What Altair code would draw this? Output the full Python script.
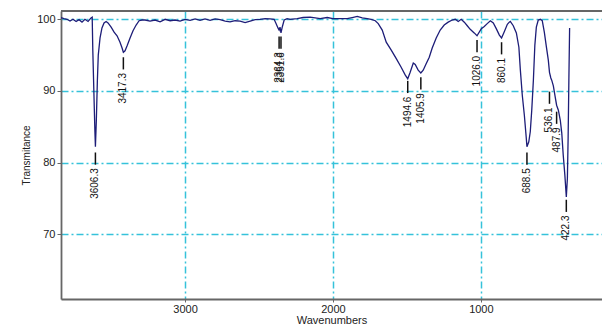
import altair as alt
import pandas as pd

# ---- spectrum ----
wavenumber = [
    3839, 3819, 3798, 3778, 3758, 3737, 3717, 3697, 3677, 3656, 3636, 3628,
    3624, 3617, 3610, 3606.3, 3600, 3593, 3587, 3575, 3562, 3548, 3534, 3521,
    3500, 3480, 3460, 3440, 3426, 3417.3, 3406, 3392, 3372, 3352, 3331, 3311,
    3291, 3271, 3237, 3203, 3169, 3135, 3101, 3068, 3034, 3000, 2966, 2932,
    2899, 2865, 2831, 2797, 2763, 2729, 2696, 2662, 2628, 2594, 2560, 2526,
    2493, 2459, 2425, 2398, 2385, 2372, 2364.3, 2358, 2351.6, 2342, 2330, 2310,
    2290, 2242, 2202, 2154, 2120, 2087, 2039, 2000, 1951, 1904, 1870, 1836,
    1802, 1769, 1742, 1714, 1694, 1667, 1640, 1606, 1572, 1539, 1511, 1494.6,
    1478, 1457, 1444, 1424, 1405.9, 1390, 1370, 1349, 1329, 1302, 1275, 1248,
    1221, 1194, 1173, 1153, 1133, 1112, 1092, 1072, 1045, 1026.0, 997, 977,
    957, 936, 916, 896, 875, 860.1, 841, 821, 808, 801, 781, 760,
    743, 733, 720, 706, 693, 688.5, 676, 666, 656, 645, 635, 625,
    612, 598, 585, 571, 558, 544, 536.1, 527, 521, 510, 497, 487.9,
    476, 463, 453, 443, 432, 422.3, 415, 410, 405, 400,
]
transmittance = [
    100.25, 100.1, 100.0, 99.75, 100.0, 99.7, 99.95, 99.6, 100.0, 99.7, 100.2, 100.3,
    95.7, 90.1, 84.5, 82.2, 85.9, 91.5, 95.0, 97.4, 98.8, 99.5, 99.7, 99.5,
    98.9, 98.2, 97.7, 96.8, 96.0, 95.4, 95.6, 96.3, 97.4, 98.4, 99.2, 99.8,
    99.9, 99.9, 99.75, 99.9, 99.65, 100.0, 99.8, 99.9, 99.75, 100.0, 99.85, 100.05,
    99.85, 100.05, 99.85, 100.05, 99.95, 99.75, 99.65, 99.8, 99.75, 99.55, 99.75, 99.95,
    100.0, 100.1, 100.05, 100.0, 99.4, 98.8, 98.5, 98.9, 98.1, 99.0, 99.9, 100.1,
    100.0, 100.1, 100.25, 100.3, 100.2, 100.1, 100.25, 100.1, 100.1, 100.1, 100.25, 100.4,
    100.2, 100.1, 100.0, 99.8, 99.4, 98.5, 96.8, 95.7, 94.5, 93.3, 92.2, 91.7,
    92.6, 93.9, 93.7, 92.9, 92.5, 92.9, 93.8, 94.7, 96.0, 97.4, 98.5, 99.2,
    99.6, 99.9, 100.0, 99.7, 100.0, 99.6, 99.1, 98.6, 98.1, 97.7, 98.7, 99.0,
    99.4, 99.8, 99.5, 98.7, 97.8, 97.4, 98.3, 99.3, 99.6, 99.7, 99.1, 98.1,
    96.1, 92.9, 89.4, 86.6, 83.4, 82.2, 82.9, 84.3, 87.3, 91.5, 96.4, 98.9,
    99.9, 100.0, 99.8, 98.2, 96.3, 94.3, 92.6, 91.8, 91.5, 90.7, 89.1, 88.0,
    87.3, 85.9, 84.1, 81.0, 78.2, 75.2, 77.8, 83.5, 91.5, 98.8,
]

# ---- peak annotations ----
peak_wn = [3606.3, 3417.3, 2364.3, 2351.6, 1494.6, 1405.9, 1026.0, 860.1, 688.5, 536.1, 487.9, 422.3]
peak_labels = ["3606.3", "3417.3", "2364.3", "2351.6", "1494.6", "1405.9", "1026.0", "860.1",
               "688.5", "536.1", "487.9", "422.3"]
peak_mark_T = [81.4, 94.7, 97.6, 97.6, 91.4, 91.9, 97.1, 96.8, 81.4, 89.9, 87.1, 74.8]

x_ticks = [3000, 2000, 1000]
y_ticks = [70, 80, 90, 100]

spec = pd.DataFrame({"wn": wavenumber, "T": transmittance})
peaks = pd.DataFrame({"wn": peak_wn, "label": peak_labels, "T": peak_mark_T})

W, H = 541, 288
GRID = "#36c2da"
AXC = "#666666"
LBLFONT = "Liberation Sans"

xs = alt.Scale(domain=[3839, 181], nice=False, zero=False)
ys = alt.Scale(domain=[60.94, 101.16], nice=False, zero=False)

x_axis = alt.Axis(values=x_ticks, title="Wavenumbers", format="d", grid=True,
                  gridColor=GRID, gridDash=[7, 3, 2, 3], gridWidth=1.5,
                  domainColor=AXC, domainWidth=1.8, tickColor=AXC, tickSize=3,
                  labelFont=LBLFONT, labelFontSize=11, labelColor="#222",
                  labelPadding=1, titleFont=LBLFONT, titleFontSize=11,
                  titleFontWeight="normal", titleColor="#222", titlePadding=0)
y_axis = alt.Axis(values=y_ticks, title="Transmitance", format="d", grid=True,
                  gridColor=GRID, gridDash=[7, 3, 2, 3], gridWidth=1.5,
                  domainColor=AXC, domainWidth=1.8, tickColor=AXC, tickSize=4,
                  labelFont=LBLFONT, labelFontSize=11, labelColor="#222",
                  labelPadding=2, titleFont=LBLFONT, titleFontSize=10,
                  titleFontWeight="normal", titleColor="#222", titlePadding=5)

line = alt.Chart(spec).mark_line(color="#1d1d78", strokeWidth=1.3).encode(
    x=alt.X("wn:Q", scale=xs, axis=x_axis),
    y=alt.Y("T:Q", scale=ys, axis=y_axis),
)

ticks = alt.Chart(peaks).transform_calculate(
    top="datum.T", bot="datum.T - 1.7"
).mark_rule(color="#111111", strokeWidth=1.5).encode(
    x=alt.X("wn:Q", scale=xs, axis=None),
    y=alt.Y("top:Q", scale=ys, axis=None),
    y2="bot:Q",
)

labels = alt.Chart(peaks).transform_calculate(
    ty="datum.T - 2.2"
).mark_text(angle=270, align="right", baseline="middle", font=LBLFONT,
            fontSize=10, color="#111111").encode(
    x=alt.X("wn:Q", scale=xs, axis=None),
    y=alt.Y("ty:Q", scale=ys, axis=None),
    text="label:N",
)

top_border = alt.Chart(peaks).mark_rule(color=AXC, strokeWidth=1.8).encode(
    x=alt.value(0), x2=alt.value(W), y=alt.value(0)
)

chart = alt.layer(line, ticks, labels, top_border).resolve_axis(
    x="independent", y="independent"
).properties(
    width=W, height=H,
    autosize=alt.AutoSizeParams(type="none"),
    padding={"left": 61, "top": 11, "right": 0, "bottom": 25},
).configure_view(stroke=None).configure(background="white")

chart.save("out.html", embed_options={"renderer": "svg", "actions": False})
